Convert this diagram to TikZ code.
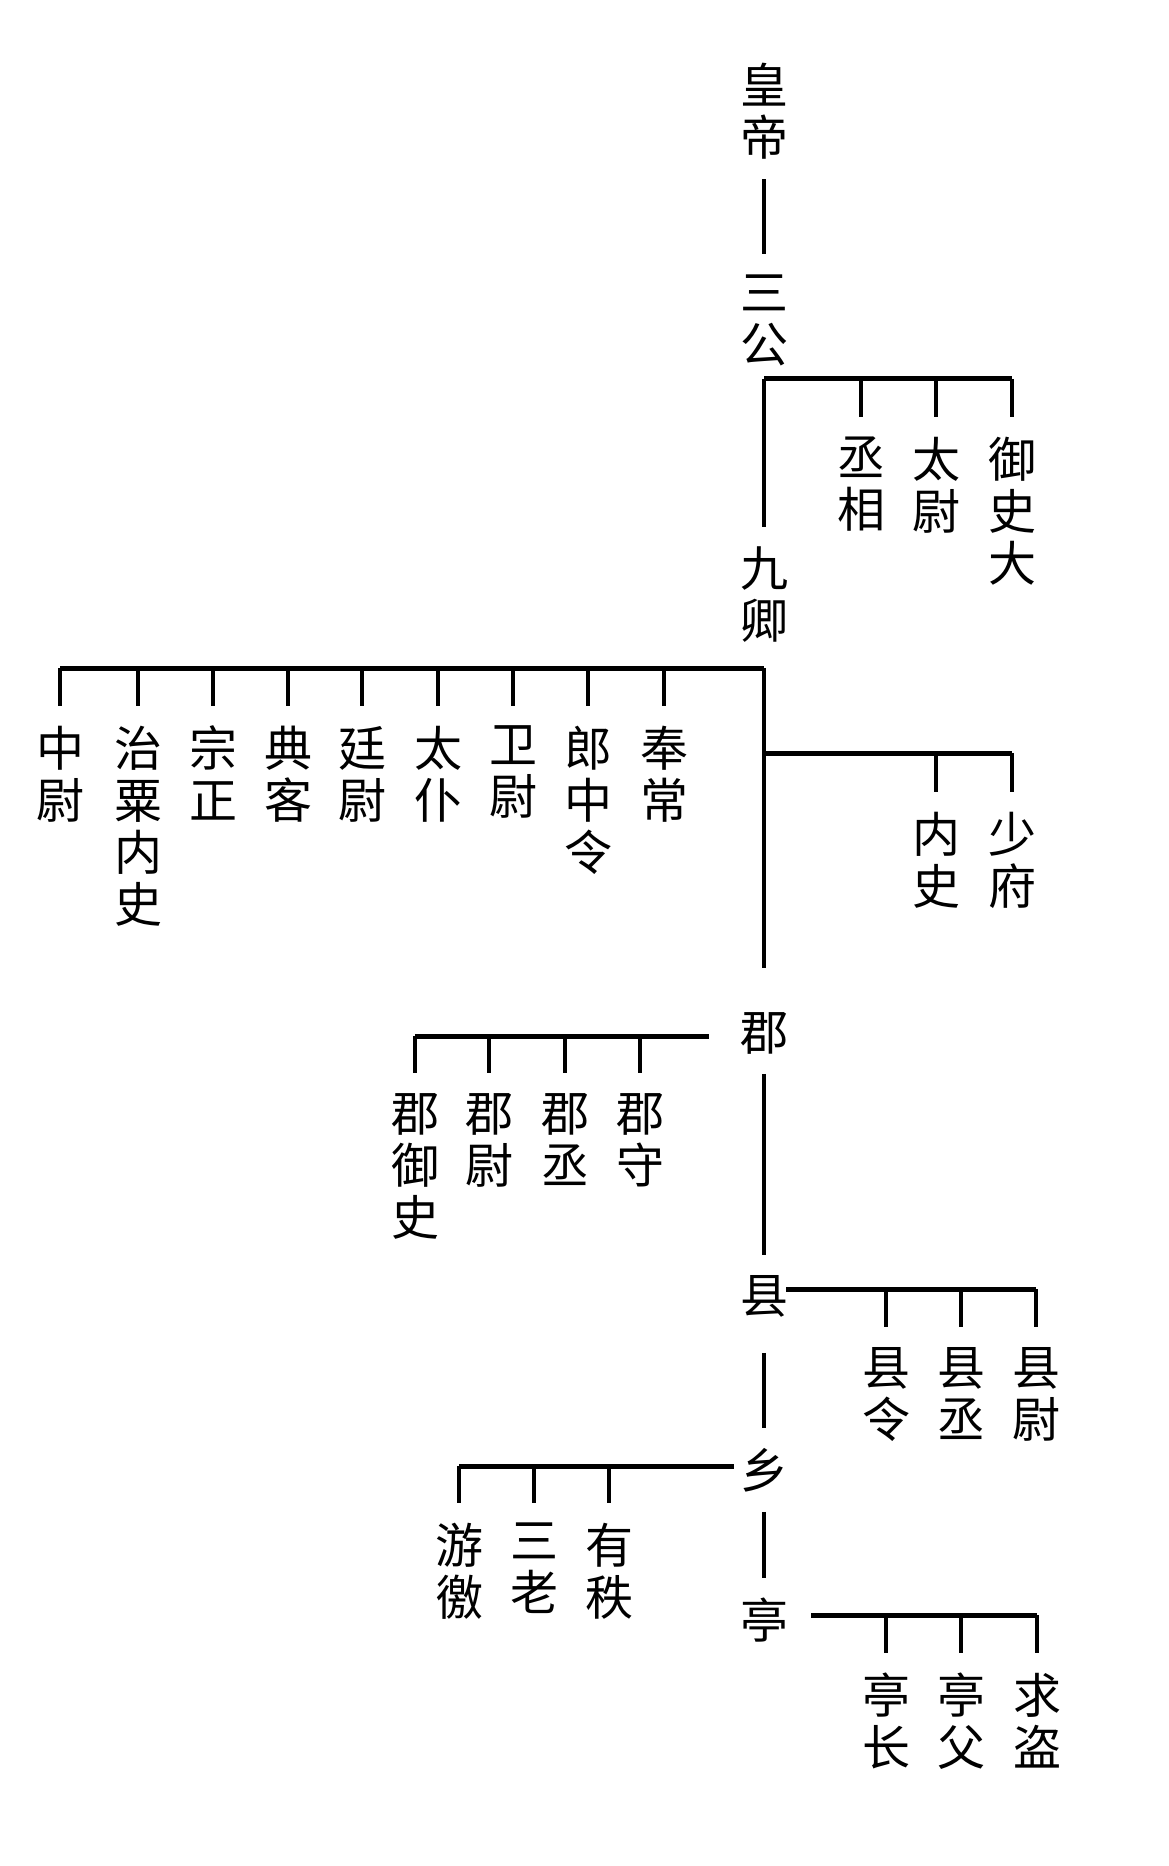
\documentclass[tikz,border=0pt]{standalone}
\usepackage{fontspec}
\newfontfamily\cjk{Noto Sans CJK SC}

\tikzset{
  post/.style={inner sep=0pt, outer sep=10pt, align=center},
  sub/.style={post, anchor=north},
  bar/.style={line width=2.5pt},
  stem/.style={line width=2.2pt}
}

\begin{document}
\begin{tikzpicture}[x=0.5pt, y=-0.5pt, every node/.style={font=\cjk\fontsize{24}{26}\selectfont}]
    \fill[white] (0,0) rectangle (1168,1866);

    % Nodes
    \node (huangdi) [post] at (764,111) {皇\\帝};
    \node (sangong) [post] at (764,320) {三\\公};
    \node (jiuqing) [post] at (764,595) {九\\卿};
    \node (jun) [post] at (764,1033) {郡};
    \node (xian) [post] at (764,1296) {县};
    \node (xiang) [post] at (764,1470) {乡};
    \node (ting) [post] at (764,1620) {亭};

    \node (chengxiang) [sub] at (861,417) {丞\\相};
    \node (taiwei) [sub] at (936,417) {太\\尉};
    \node (yushi) [sub] at (1012,417) {御\\史\\大};

    \node (zhongwei) [sub] at (60,706) {中\\尉};
    \node (zhisu) [sub] at (138,706) {治\\粟\\内\\史};
    \node (zongzheng) [sub] at (213,706) {宗\\正};
    \node (dianke) [sub] at (288,706) {典\\客};
    \node (tingwei) [sub] at (362,706) {廷\\尉};
    \node (taipu) [sub] at (438,706) {太\\仆};
    \node (weiwei) [sub] at (513,706) {卫\\尉};
    \node (langzhong) [sub] at (588,706) {郎\\中\\令};
    \node (fengchang) [sub] at (664,706) {奉\\常};

    \node (neishi) [sub] at (936,792) {内\\史};
    \node (shaofu) [sub] at (1012,792) {少\\府};

    \node (junyushi) [sub] at (415,1073) {郡\\御\\史};
    \node (junwei) [sub] at (489,1073) {郡\\尉};
    \node (juncheng) [sub] at (565,1073) {郡\\丞};
    \node (junshou) [sub] at (640,1073) {郡\\守};

    \node (xianling) [sub] at (886,1327) {县\\令};
    \node (xiancheng) [sub] at (961,1327) {县\\丞};
    \node (xianwei) [sub] at (1036,1327) {县\\尉};

    \node (youjiao) [sub] at (459,1503) {游\\徼};
    \node (sanlao) [sub] at (534,1503) {三\\老};
    \node (youzhi) [sub] at (609,1503) {有\\秩};

    \node (tingzhang) [sub] at (886,1653) {亭\\长};
    \node (tingfu) [sub] at (961,1653) {亭\\父};
    \node (qiudao) [sub] at (1037,1653) {求\\盗};

    % Bar points
    \coordinate (sgbar) at (764,379);
    \coordinate (jqbar) at (764,668);
    \coordinate (sfbar) at (764,753);
    \coordinate (junbar) at (709,1036);
    \coordinate (xianbar) at (786,1289);
    \coordinate (xiangbar) at (734,1466);
    \coordinate (tingbar) at (811,1615);

    % Main line
    \draw[stem] (huangdi) -- (sangong);
    \draw[stem] (sgbar) -- (sgbar |- jiuqing.north);
    \draw[stem, shorten >=12pt] (jqbar) -- (jun.north);
    \draw[stem] (jun) -- (xian);
    \draw[stem, shorten <=8pt] (xian) -- (xiang);
    \draw[stem] (xiang) -- (ting);

    % Bars
    \draw[bar] (sgbar) -- (yushi.north |- sgbar);
    \draw[bar] (zhongwei.north |- jqbar) -- (jqbar);
    \draw[bar] (sfbar) -- (shaofu.north |- sfbar);
    \draw[bar] (junyushi.north |- junbar) -- (junbar);
    \draw[bar] (xianbar) -- (xianwei.north |- xianbar);
    \draw[bar] (youjiao.north |- xiangbar) -- (xiangbar);
    \draw[bar] (tingbar) -- (qiudao.north |- tingbar);

    % Ticks
    \foreach \n in {chengxiang, taiwei, yushi}
      \draw[stem] (\n.north |- sgbar) -- (\n.north);
    \foreach \n in {zhongwei, zhisu, zongzheng, dianke, tingwei, taipu, weiwei, langzhong, fengchang}
      \draw[stem] (\n.north |- jqbar) -- (\n.north);
    \foreach \n in {neishi, shaofu}
      \draw[stem] (\n.north |- sfbar) -- (\n.north);
    \foreach \n in {junyushi, junwei, juncheng, junshou}
      \draw[stem] (\n.north |- junbar) -- (\n.north);
    \foreach \n in {xianling, xiancheng, xianwei}
      \draw[stem] (\n.north |- xianbar) -- (\n.north);
    \foreach \n in {youjiao, sanlao, youzhi}
      \draw[stem] (\n.north |- xiangbar) -- (\n.north);
    \foreach \n in {tingzhang, tingfu, qiudao}
      \draw[stem] (\n.north |- tingbar) -- (\n.north);

\end{tikzpicture}
\end{document}
